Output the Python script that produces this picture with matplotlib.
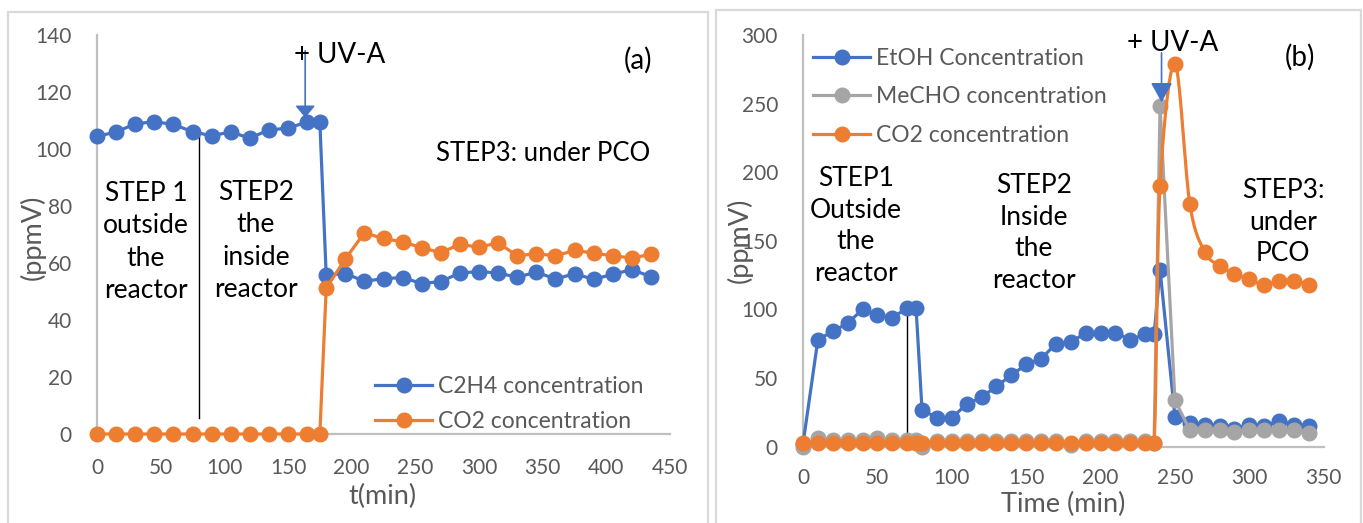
import matplotlib
matplotlib.use("Agg")
import matplotlib.pyplot as plt
from matplotlib.patches import Rectangle
from matplotlib.lines import Line2D
import numpy as np

plt.rcParams['font.family'] = ['Lato', 'DejaVu Sans']

# ---------------- data: panel (a) ----------------
t_a = [0, 15, 30, 45, 60, 75, 90, 105, 120, 135, 150, 165, 175,
       180, 195, 210, 225, 240, 255, 270, 285, 300, 315, 330, 345, 360, 375, 390, 405, 420, 435]
c2h4_a = [104.4, 106.0, 108.8, 109.6, 108.6, 106.1, 104.6, 106.0, 103.8, 106.7, 107.3, 109.5, 109.5,
          55.8, 56.3, 53.6, 54.5, 54.9, 52.8, 53.5, 56.5, 57.0, 56.5, 55.0, 56.8, 54.4, 56.2, 54.3, 56.0, 57.7, 55.2]
co2_a = [0, 0, 0, 0, 0, 0, 0, 0, 0, 0, 0, 0, 0,
         51.2, 61.4, 70.6, 68.6, 67.4, 65.4, 63.6, 66.6, 65.5, 67.1, 62.5, 63.3, 62.5, 64.4, 63.5, 62.5, 61.8, 63.0]

# ---------------- data: panel (b) ----------------
t_b = [0, 10, 20, 30, 40, 50, 60, 70, 76, 80, 90, 100, 110, 120, 130, 140, 150, 160, 170, 180,
       190, 200, 210, 220, 230, 236, 240, 250, 260, 270, 280, 290, 300, 310, 320, 330, 340]
etoh_b = [2, 78, 84, 90, 100, 96, 94, 101, 101, 27, 21, 21, 31, 36, 44, 52, 60, 64, 75, 76,
          83, 83, 83, 78, 82, 82, 129, 22, 17, 16, 15, 13, 16, 15, 19, 16, 15]
mecho_b = [0, 6, 5, 5, 5, 6, 5, 5, 5, 0, 4, 4, 4, 4, 4, 4, 4, 4, 4, 1,
           4, 4, 4, 4, 4, 3, 248, 34, 12, 12, 12, 11, 12, 12, 12, 12, 10]
co2_b = [3, 3, 3, 3, 3, 3, 3, 3, 3, 3, 3, 3, 3, 3, 3, 3, 3, 3, 3, 3,
         3, 3, 3, 3, 3, 3, 190, 279, 177, 142, 132, 126, 122, 118, 121, 121, 118]

legend_a = ["C2H4 concentration", "CO2 concentration"]
legend_b = ["EtOH Concentration", "MeCHO concentration", "CO2 concentration"]

BLUE = "#4472C4"
ORANGE = "#ED7D31"
GREY = "#A5A5A5"
TICKC = "#595959"
SPINEC = "#BFBFBF"

W, H = 1363, 523
fig = plt.figure(figsize=(W / 100, H / 100), dpi=100)


def fx(px):
    return px / W


def fy(py):
    return 1 - py / H


def smooth(x, y, start, n=20):
    """Excel-like Bezier smoothing of the line from index `start` on."""
    x = np.asarray(x, float)
    y = np.asarray(y, float)
    xs = list(x[:start + 1])
    ys = list(y[:start + 1])
    N = len(x)
    for i in range(start, N - 1):
        p0 = np.array([x[i], y[i]])
        p1 = np.array([x[i + 1], y[i + 1]])
        pm = np.array([x[i - 1], y[i - 1]]) if i > 0 else p0
        pp = np.array([x[i + 2], y[i + 2]]) if i + 2 < N else p1
        c1 = p0 + (p1 - pm) / 6
        c2 = p1 - (pp - p0) / 6
        s = np.linspace(0, 1, n)[1:]
        for u in s:
            pt = (1 - u) ** 3 * p0 + 3 * (1 - u) ** 2 * u * c1 + 3 * (1 - u) * u ** 2 * c2 + u ** 3 * p1
            xs.append(pt[0])
            ys.append(pt[1])
    return xs, ys


# panel borders
for (x0, x1, y0) in [(8, 708, 12), (716, 1361, 10)]:
    fig.patches.append(Rectangle((fx(x0), fy(H + 10)), fx(x1) - fx(x0), fy(y0) - fy(H + 10),
                                 transform=fig.transFigure, fill=False, ec="#D9D9D9", lw=1.6))


def style(ax, xpad, ypad):
    for s in ["top", "right"]:
        ax.spines[s].set_visible(False)
    for s in ["left", "bottom"]:
        ax.spines[s].set_color(SPINEC)
        ax.spines[s].set_linewidth(1.6)
    ax.tick_params(axis="both", length=0, labelsize=15, labelcolor=TICKC)
    ax.tick_params(axis="x", pad=xpad)
    ax.tick_params(axis="y", pad=ypad)
    ax.set_facecolor("none")


MS = 10.5
LW = 2.3
LEGFS = 16.5
AXFS = 19.5
STEPFS = 19

# ---------------- panel (a) ----------------
axa = fig.add_axes([fx(97), fy(434), fx(670) - fx(97), fy(35) - fy(434)])
axa.set_xlim(0, 450)
axa.set_ylim(0, 140)
axa.set_xticks(range(0, 451, 50))
axa.set_yticks(range(0, 141, 20))
style(axa, 17, 18)
axa.plot([80, 80], [104.5, 5.5], color="black", lw=1.0, zorder=2)
axa.plot(t_a, c2h4_a, color=BLUE, lw=LW, marker="o", ms=MS, label=legend_a[0], clip_on=False, zorder=3)
axa.plot(t_a, co2_a, color=ORANGE, lw=LW, marker="o", ms=MS, label=legend_a[1], clip_on=False, zorder=4)
axa.annotate("", xy=(163.5, 111.0), xytext=(163.5, 134.5),
             arrowprops=dict(arrowstyle="-|>,head_length=0.6,head_width=0.5", mutation_scale=12,
                             color=BLUE, lw=1.2, shrinkA=0, shrinkB=0), zorder=5)
la = axa.legend(loc="upper left", bbox_to_anchor=(fx(375), fy(376)), bbox_transform=fig.transFigure,
                frameon=False, fontsize=LEGFS, handlelength=2.5, handletextpad=0.25, labelspacing=0.62,
                borderpad=0, borderaxespad=0)
for t in la.get_texts():
    t.set_color(TICKC)

fig.text(fx(33), fy(237), "(ppmV)", rotation=90, ha="center", va="center", fontsize=AXFS, color=TICKC)
fig.text(fx(382), fy(496), "t(min)", ha="center", va="center", fontsize=AXFS, color=TICKC)
fig.text(fx(340), fy(55), "+ UV-A", ha="center", va="center", fontsize=20, color="black")
fig.text(fx(638), fy(60), "(a)", ha="center", va="center", fontsize=20, color="black")
fig.text(fx(543), fy(153), "STEP3: under PCO", ha="center", va="center", fontsize=18.5, color="black")
fig.text(fx(146), fy(242), "STEP 1\noutside\nthe\nreactor", ha="center", va="center", fontsize=STEPFS,
         color="black", linespacing=1.38)
fig.text(fx(256), fy(241), "STEP2\nthe\ninside\nreactor", ha="center", va="center", fontsize=STEPFS,
         color="black", linespacing=1.38)

# ---------------- panel (b) ----------------
axb = fig.add_axes([fx(803), fy(446.7), fx(1323.7) - fx(803), fy(35) - fy(446.7)])
axb.set_xlim(0, 350)
axb.set_ylim(0, 300)
axb.set_xticks(range(0, 351, 50))
axb.set_yticks(range(0, 301, 50))
style(axb, 15, 18)
axb.plot([70, 70], [97, 6], color="black", lw=1.0, zorder=2)
axb.plot(t_b, etoh_b, color=BLUE, lw=LW, marker="o", ms=MS, label=legend_b[0], clip_on=False, zorder=3)
axb.plot(t_b, mecho_b, color=GREY, lw=LW, marker="o", ms=MS, label=legend_b[1], clip_on=False, zorder=4)
sx, sy = smooth(t_b, co2_b, t_b.index(236))
axb.plot(sx, sy, color=ORANGE, lw=LW, clip_on=False, zorder=5)
axb.plot(t_b, co2_b, color=ORANGE, lw=0, marker="o", ms=MS, clip_on=False, zorder=5)
axb.annotate("", xy=(241, 251), xytext=(241, 287),
             arrowprops=dict(arrowstyle="-|>,head_length=1.0,head_width=0.55", mutation_scale=12,
                             color=BLUE, lw=1.2, shrinkA=0, shrinkB=0), zorder=6)
hb = [Line2D([], [], color=BLUE, lw=LW, marker="o", ms=MS),
      Line2D([], [], color=GREY, lw=LW, marker="o", ms=MS),
      Line2D([], [], color=ORANGE, lw=LW, marker="o", ms=MS)]
lb = axb.legend(hb, legend_b, loc="upper left", bbox_to_anchor=(fx(813), fy(48)),
                bbox_transform=fig.transFigure, frameon=False, fontsize=LEGFS, handlelength=2.5,
                handletextpad=0.25, labelspacing=0.76, borderpad=0, borderaxespad=0)
for t in lb.get_texts():
    t.set_color(TICKC)

fig.text(fx(740), fy(240), "(ppmV)", rotation=90, ha="center", va="center", fontsize=AXFS, color=TICKC)
fig.text(fx(1063), fy(504), "Time (min)", ha="center", va="center", fontsize=AXFS, color=TICKC)
fig.text(fx(1173), fy(43), "+ UV-A", ha="center", va="center", fontsize=20, color="black")
fig.text(fx(1300), fy(57), "(b)", ha="center", va="center", fontsize=20, color="black")
fig.text(fx(856), fy(226), "STEP1\nOutside\nthe\nreactor", ha="center", va="center", fontsize=STEPFS,
         color="black", linespacing=1.33)
fig.text(fx(1034), fy(233), "STEP2\nInside\nthe\nreactor", ha="center", va="center", fontsize=STEPFS,
         color="black", linespacing=1.33)
fig.text(fx(1283), fy(222), "STEP3:\nunder\nPCO", ha="center", va="center", fontsize=STEPFS,
         color="black", linespacing=1.33)

fig.savefig("out.png", dpi=100)
